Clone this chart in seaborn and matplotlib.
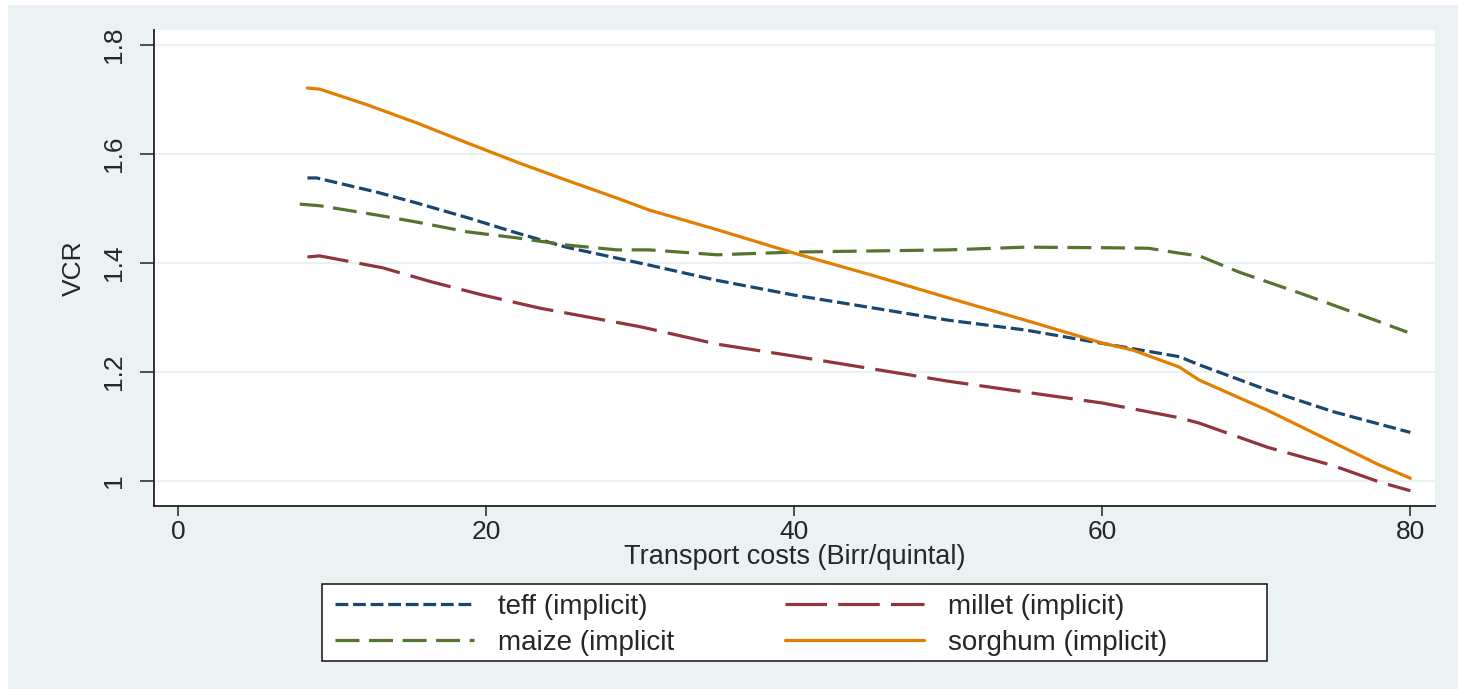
import numpy as np
import pandas as pd
import matplotlib
matplotlib.use("Agg")
import matplotlib.pyplot as plt
from matplotlib.patches import Rectangle
from matplotlib.ticker import FormatStrFormatter
import seaborn as sns

# values
teff_x = [8.4, 9.0, 12.9, 15.5, 18.8, 22.0, 25.2, 30.6, 35, 40, 45, 50, 55, 60.5, 65, 66.3, 70.7, 75, 80]
teff_y = [1.556, 1.556, 1.530, 1.510, 1.483, 1.455, 1.429, 1.396, 1.368, 1.341, 1.318, 1.295,
          1.277, 1.250, 1.228, 1.213, 1.167, 1.127, 1.089]

maize_x = [7.9, 9.2, 12.9, 15.5, 18.8, 22.0, 25.2, 28.5, 30.6, 35, 40, 45, 50, 55, 60, 63, 65,
           66.3, 68.9, 72.8, 78.0, 79.8]
maize_y = [1.508, 1.505, 1.488, 1.475, 1.457, 1.446, 1.433, 1.424, 1.424, 1.415, 1.420, 1.422,
           1.424, 1.429, 1.428, 1.427, 1.418, 1.413, 1.383, 1.345, 1.292, 1.273]

millet_x = [8.4, 9.2, 13.3, 16.5, 19.8, 23.5, 30, 35, 40, 45, 50, 55, 60, 65, 66.3, 70.7, 75, 78, 80]
millet_y = [1.411, 1.413, 1.391, 1.365, 1.341, 1.317, 1.283, 1.251, 1.229, 1.206, 1.183, 1.163,
            1.143, 1.116, 1.106, 1.062, 1.028, 0.998, 0.982]

sorghum_x = [8.4, 9.2, 12.3, 15.5, 18.8, 22.0, 25.2, 28.5, 30.6, 35, 40, 45, 50, 55, 60, 62, 65,
             66.3, 70.7, 78.0, 80]
sorghum_y = [1.721, 1.719, 1.690, 1.657, 1.620, 1.585, 1.552, 1.519, 1.497, 1.461, 1.418, 1.378,
             1.336, 1.295, 1.253, 1.240, 1.209, 1.185, 1.130, 1.029, 1.005]

labels = ["teff (implicit)", "maize (implicit", "millet (implicit)", "sorghum (implicit)"]
x_ticks = [0, 20, 40, 60, 80]
y_ticks = [1.0, 1.2, 1.4, 1.6, 1.8]

colors = ["#1a476f", "#55752f", "#90353b", "#e37e00"]
dash_styles = [(4, 1.5), (7.5, 3), (13, 3.5), ""]

frames = []
for lab, xs, ys in zip(labels,
                       [teff_x, maize_x, millet_x, sorghum_x],
                       [teff_y, maize_y, millet_y, sorghum_y]):
    frames.append(pd.DataFrame({"cost": xs, "vcr": ys, "crop": lab}))
df = pd.concat(frames, ignore_index=True)

sns.set_style("white")
plt.rcParams["font.family"] = ["Liberation Sans", "DejaVu Sans"]

bg = "#eaf2f3"
fig = plt.figure(figsize=(14.58, 6.89), dpi=100)
fig.patch.set_facecolor("white")
fig.patches.append(Rectangle((8 / 1458, 0), 1 - 8 / 1458, 1 - 5 / 689,
                             transform=fig.transFigure, facecolor=bg, edgecolor="none", zorder=-10))

ax = fig.add_axes([154 / 1458, 1 - 506 / 689, (1435 - 154) / 1458, (506 - 30) / 689])
ax.set_facecolor("white")

sns.lineplot(data=df, x="cost", y="vcr", hue="crop", style="crop",
             hue_order=labels, style_order=labels,
             palette=dict(zip(labels, colors)),
             dashes=dict(zip(labels, dash_styles)),
             linewidth=2.3, sort=False, estimator=None, legend=False, ax=ax)

ax.set_xlim(-1.56, 81.6)
ax.set_ylim(0.954, 1.8275)
ax.set_xticks(x_ticks)
ax.set_yticks(y_ticks)
ax.yaxis.set_major_formatter(FormatStrFormatter("%g"))
ax.grid(axis="y", color=bg, linewidth=1.6)
ax.set_axisbelow(True)

for side in ["top", "right"]:
    ax.spines[side].set_visible(False)
for side in ["left", "bottom"]:
    ax.spines[side].set_color("#222222")
    ax.spines[side].set_linewidth(1.3)

ax.tick_params(axis="y", direction="out", length=10, width=1.1, color="#222222",
               pad=10, labelsize=19, left=True)
ax.tick_params(axis="x", direction="out", length=7, width=1.1, color="#222222",
               pad=3, labelsize=19, bottom=True)
for t in ax.get_yticklabels():
    t.set_rotation(90)
    t.set_va("center")

ax.set_xlabel("Transport costs (Birr/quintal)", fontsize=19.5, labelpad=0)
ax.set_ylabel("VCR", fontsize=19, labelpad=12)

# legend box and entries
fig.patches.append(Rectangle((322 / 1458, 1 - 661 / 689), (1267 - 322) / 1458, 77 / 689,
                             transform=fig.transFigure, facecolor="white",
                             edgecolor="#111111", linewidth=1.1, zorder=1))
handles = [plt.Line2D([], [], color=c, linewidth=2.3, linestyle=(0, d) if d else "-")
           for c, d in zip(colors, dash_styles)]
leg = fig.legend(handles, labels, ncol=2, loc="upper left",
                 bbox_to_anchor=(335 / 1458, 1 - 594 / 689), bbox_transform=fig.transFigure,
                 frameon=False, fontsize=20, handlelength=5.0, handletextpad=0.86,
                 columnspacing=4.0, labelspacing=0.36, borderpad=0, borderaxespad=0)
leg.set_zorder(2)

fig.savefig("out.png", dpi=100, facecolor=fig.get_facecolor())
